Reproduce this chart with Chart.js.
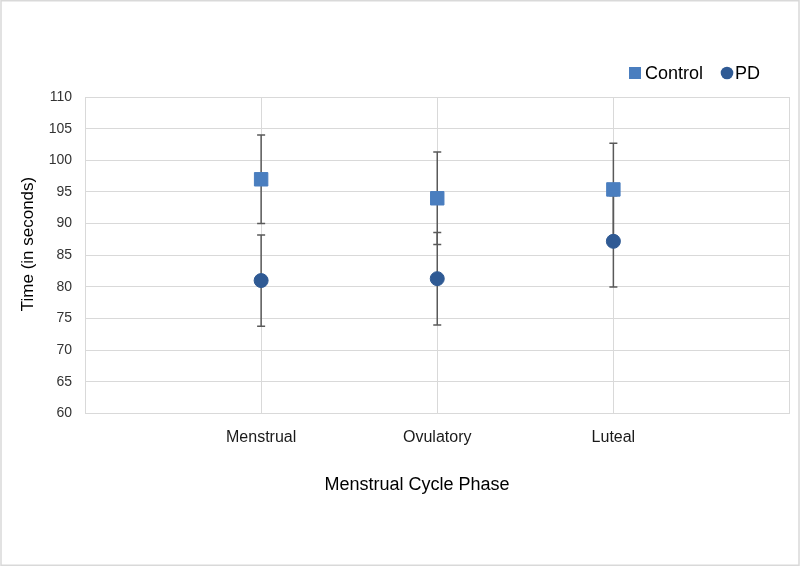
<!DOCTYPE html>
<html>
<head>
<meta charset="utf-8">
<script src="https://cdn.jsdelivr.net/npm/chart.js@4"></script>
<style>
  html, body { margin: 0; padding: 0; background: #fff; }
  #wrap { width: 800px; height: 566px; }
</style>
</head>
<body>
<div id="wrap"><canvas id="phaseChart" width="800" height="566"></canvas></div>
<script>
const categories = ['Menstrual', 'Ovulatory', 'Luteal'];
const controlMean = [97.0, 94.0, 95.4];
const controlErr = [7.0, 7.3, 7.3];
const pdMean = [81.0, 81.3, 87.2];
const pdErr = [7.2, 7.3, 7.2];
const yTicks = [60, 65, 70, 75, 80, 85, 90, 95, 100, 105, 110];

const controlColor = '#4a7ebf';
const pdColor = '#2f5a94';
const gridColor = '#d9d9d9';
const fontFamily = '"Liberation Sans", Arial, Helvetica, sans-serif';

function toPoints(means) {
    return means.map((v, i) => ({ x: i + 1, y: v }));
}

// error bars drawn under the markers
const errorBars = {
    id: 'errorBars',
    beforeDatasetsDraw(chart) {
        const ctx = chart.ctx;
        const xs = chart.scales.x;
        const ys = chart.scales.y;
        const sets = [[controlMean, controlErr], [pdMean, pdErr]];
        ctx.save();
        ctx.strokeStyle = '#595959';
        ctx.lineWidth = 1.5;
        sets.forEach(([means, errs]) => {
            means.forEach((m, i) => {
                const px = xs.getPixelForValue(i + 1);
                const top = ys.getPixelForValue(m + errs[i]);
                const bot = ys.getPixelForValue(m - errs[i]);
                ctx.beginPath();
                ctx.moveTo(px, top);
                ctx.lineTo(px, bot);
                ctx.moveTo(px - 4, top);
                ctx.lineTo(px + 4, top);
                ctx.moveTo(px - 4, bot);
                ctx.lineTo(px + 4, bot);
                ctx.stroke();
            });
        });
        ctx.restore();
    }
};

// outer frame, axis titles and legend
const frameAndLegend = {
    id: 'frameAndLegend',
    beforeDraw(chart) {
        const ctx = chart.ctx;
        ctx.save();
        ctx.fillStyle = '#fff';
        ctx.fillRect(0, 0, chart.width, chart.height);
        ctx.strokeStyle = gridColor;
        ctx.lineWidth = 1.5;
        ctx.strokeRect(1, 0.75, chart.width - 2, chart.height - 1.5);
        ctx.restore();
    },
    afterDraw(chart) {
        const ctx = chart.ctx;
        const ds = chart.data.datasets;
        ctx.save();
        // axis titles
        ctx.fillStyle = '#000';
        ctx.textAlign = 'center';
        ctx.textBaseline = 'middle';
        ctx.font = '18px ' + fontFamily;
        ctx.fillText('Menstrual Cycle Phase', 417, 485);
        ctx.save();
        ctx.translate(28, 244);
        ctx.rotate(-Math.PI / 2);
        ctx.font = '17px ' + fontFamily;
        ctx.fillText('Time (in seconds)', 0, 0);
        ctx.restore();

        // legend
        ctx.textAlign = 'left';
        ctx.font = '18px ' + fontFamily;
        const cy = 73;
        ctx.fillStyle = ds[0].backgroundColor;
        ctx.fillRect(629, cy - 6, 12, 12);
        ctx.fillStyle = '#000';
        ctx.fillText(ds[0].label, 645, cy + 1);
        ctx.fillStyle = ds[1].backgroundColor;
        ctx.beginPath();
        ctx.arc(727, cy, 6.3, 0, Math.PI * 2);
        ctx.fill();
        ctx.fillStyle = '#000';
        ctx.fillText(ds[1].label, 735, cy + 1);
        ctx.restore();
    }
};

new Chart(document.getElementById('phaseChart'), {
    type: 'scatter',
    data: {
        datasets: [
            {
                label: 'Control',
                data: toPoints(controlMean),
                pointStyle: 'rect',
                pointRadius: 9.5,
                pointHoverRadius: 9.5,
                backgroundColor: controlColor,
                borderColor: controlColor,
                borderWidth: 1
            },
            {
                label: 'PD',
                data: toPoints(pdMean),
                pointStyle: 'circle',
                pointRadius: 7,
                pointHoverRadius: 7,
                backgroundColor: pdColor,
                borderColor: pdColor,
                borderWidth: 1
            }
        ]
    },
    options: {
        responsive: false,
        animation: false,
        layout: { padding: { top: 97, right: 9, left: 0, bottom: 0 } },
        plugins: {
            legend: { display: false },
            tooltip: { enabled: false }
        },
        scales: {
            x: {
                type: 'linear',
                min: 0,
                max: 4,
                afterBuildTicks(scale) {
                    scale.ticks = [0, 1, 2, 3, 4].map(v => ({ value: v }));
                },
                afterFit(scale) {
                    scale.height = 566 - 413.5;
                    scale.paddingLeft = 0;
                    scale.paddingRight = 0;
                },
                ticks: {
                    callback: v => categories[v - 1] || '',
                    font: { family: fontFamily, size: 16 },
                    color: '#1a1a1a',
                    padding: 14,
                    maxRotation: 0,
                    autoSkip: false
                },
                grid: { color: gridColor, lineWidth: 1, drawTicks: false },
                border: { color: gridColor }
            },
            y: {
                min: 60,
                max: 110,
                afterBuildTicks(scale) {
                    scale.ticks = yTicks.map(v => ({ value: v }));
                },
                afterFit(scale) { scale.width = 85; },
                ticks: {
                    font: { family: fontFamily, size: 14 },
                    color: '#333',
                    padding: 13
                },
                grid: { color: gridColor, lineWidth: 1, drawTicks: false },
                border: { color: gridColor }
            }
        }
    },
    plugins: [frameAndLegend, errorBars]
});
</script>
</body>
</html>
